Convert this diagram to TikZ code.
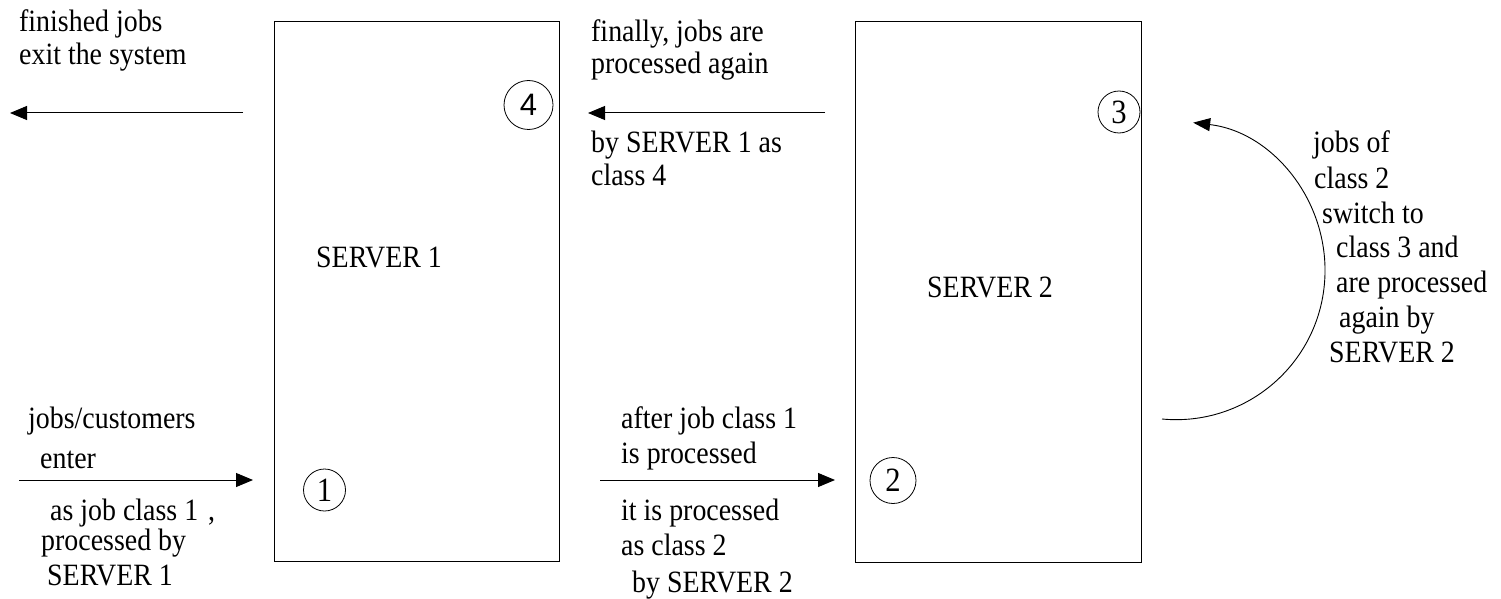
\documentclass[tikz,border=0pt]{standalone}
\usepackage{fontspec}
\setmainfont{Liberation Serif}
\newfontfamily\reffont[FakeStretch=0.9]{Liberation Serif}
\newfontfamily\refsans{Liberation Sans}
\usetikzlibrary{arrows.meta}
\begin{document}
\begin{tikzpicture}[x=1pt,y=-1pt,
  txt/.style={anchor=base west, inner sep=0pt, font=\reffont\fontsize{31}{33}\selectfont},
  serverbox/.style={draw, line width=1pt, rectangle, inner sep=0pt},
  circ/.style={draw, circle, line width=0.8pt, inner sep=0pt, minimum size=42pt, font=\reffont\fontsize{34}{36}\selectfont},
  flow/.style={line width=1pt, -{Triangle[length=17pt,width=14pt]}},
  loop/.style={line width=0.9pt, -{Triangle[length=17pt,width=13pt]}}]
\useasboundingbox (0,0) rectangle (1501,599);
% servers
\node[serverbox, minimum width=285pt, minimum height=539pt] (s1) at (416.5,291.5) {};
\node[serverbox, minimum width=286pt, minimum height=540pt] (s2) at (998,292) {};
\node[txt] (s1lab) at (316,267) {SERVER 1};
\node[txt] (s2lab) at (927,297) {SERVER 2};
% circled numbers
\node[circ] (c1) at (324.5,490) {1};
\node[circ, minimum size=46pt] (c2) at (893,480.5) {2};
\node[circ] (c3) at (1119,112) {3};
\node[circ, minimum size=49pt, font=\refsans\fontsize{31}{33}\selectfont] (c4) at (528.5,105) {4};
% coordinates for arrows
\coordinate (exA) at (243,113);
\coordinate (exB) at (10,113);
\coordinate (f4A) at (825,113);
\coordinate (f4B) at (588,113);
\coordinate (enA) at (19,480);
\coordinate (enB) at (253,480);
\coordinate (f2A) at (600,480);
\coordinate (f2B) at (835,480);
\coordinate (lpA) at (1162,419);
% arrows
\draw[flow] (exA) -- (exB);
\draw[flow] (f4A) -- (f4B);
\draw[flow] (enA) -- (enB);
\draw[flow] (f2A) -- (f2B);
\draw[loop] (lpA) arc[start angle=-95.4, end angle=83.4, radius=149pt];
% texts top left
\node[txt] (t1) at (19,32) {finished jobs};
\node[txt] (t2) at (19,65) {exit the system};
% texts top middle
\node[txt] (t3) at (591,42) {finally, jobs are};
\node[txt] (t4) at (591,74) {processed again};
\node[txt] (t5) at (591,153) {by SERVER 1 as};
\node[txt] (t6) at (591,185) {class 4};
% bottom left
\node[txt] (t7) at (28,428) {jobs/customers};
\node[txt] (t8) at (40,468) {enter};
\node[txt] (t9) at (50,520) {as job class 1\hspace{10pt},};
\node[txt] (t10) at (41,550) {processed by};
\node[txt] (t11) at (47,585) {SERVER 1};
% bottom middle
\node[txt] (t12) at (621,428) {after job class 1};
\node[txt] (t13) at (621,463) {is processed};
\node[txt] (t14) at (621,520) {it is processed};
\node[txt] (t15) at (621,555) {as class 2};
\node[txt] (t16) at (632,592) {by SERVER 2};
% right
\node[txt] (t17) at (1313,153) {jobs of};
\node[txt] (t18) at (1314,188) {class 2};
\node[txt] (t19) at (1322,223) {switch to};
\node[txt] (t20) at (1336,257) {class 3 and};
\node[txt] (t21) at (1336,292) {are processed};
\node[txt] (t22) at (1339,327) {again by};
\node[txt] (t23) at (1329,362) {SERVER 2};
\end{tikzpicture}
\end{document}
